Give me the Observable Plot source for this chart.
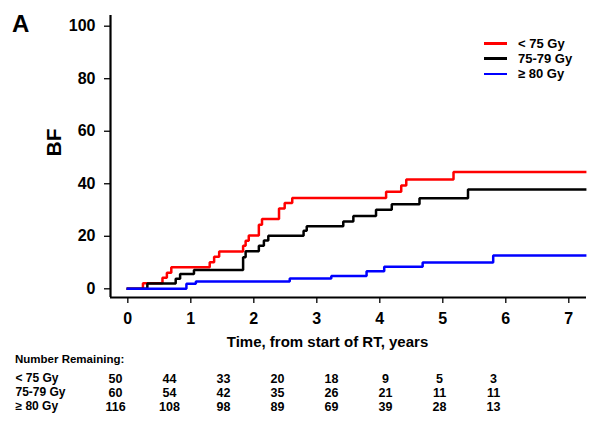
<!DOCTYPE html>
<html>
<head>
<meta charset="utf-8">
<script src="https://cdn.jsdelivr.net/npm/d3@7"></script>
<script src="https://cdn.jsdelivr.net/npm/@observablehq/plot@0.6"></script>
<style>
  html, body { margin: 0; padding: 0; background: #fff; }
  #wrap { position: relative; width: 600px; height: 422px; font-family: "Liberation Sans", Arial, sans-serif; font-weight: bold; color: #000; overflow: hidden; }
  #wrap svg { font-family: "Liberation Sans", Arial, sans-serif; }
  .abs { position: absolute; line-height: 1; white-space: nowrap; }
  .sw { position: absolute; width: 23px; height: 2.5px; }
</style>
</head>
<body>
<div id="wrap"></div>
<script>
// ---- data ----
const series = ["< 75 Gy", "75-79 Gy", "≥ 80 Gy"];
const colors = ["#ff0000", "#000000", "#0000ff"];

const redTimes   = [0, 0.24, 0.55, 0.62, 0.69, 1.30, 1.37, 1.45, 1.83, 1.87, 1.92, 2.08, 2.13, 2.40, 2.49, 2.61, 4.10, 4.34, 4.42, 5.17, 7.26];
const redValues  = [0, 2.1, 4.2, 6.1, 8.2, 10.1, 12.2, 14.2, 16.4, 18.3, 20.3, 24.4, 26.6, 30.6, 32.7, 34.6, 37.0, 39.3, 41.6, 44.5, 44.5];

const blackTimes  = [0, 0.31, 0.76, 0.83, 1.05, 1.83, 1.87, 2.08, 2.16, 2.23, 2.79, 2.84, 3.42, 3.58, 3.94, 4.19, 4.63, 5.40, 7.26];
const blackValues = [0, 2.0, 3.8, 5.6, 7.2, 12.0, 14.3, 16.4, 18.4, 20.2, 22.1, 23.8, 25.6, 27.7, 30.1, 32.2, 34.5, 37.8, 37.8];

const blueTimes  = [0, 0.93, 1.08, 2.57, 3.23, 3.79, 4.07, 4.68, 5.80, 7.26];
const blueValues = [0, 1.9, 2.8, 3.9, 4.9, 6.7, 8.4, 10.0, 12.7, 12.7];

const xTicks = [0, 1, 2, 3, 4, 5, 6, 7];
const yTicks = [0, 20, 40, 60, 80, 100];

const remainingLt75 = [50, 44, 33, 20, 18, 9, 5, 3];
const remaining7579 = [60, 54, 42, 35, 26, 21, 11, 11];
const remainingGe80 = [116, 108, 98, 89, 69, 39, 28, 13];

const panelLabel = "A";
const yLabel = "BF";
const xLabel = "Time, from start of RT, years";
const tableTitle = "Number Remaining:";

// ---- build ----
const xDomain = [-0.275, 7.281];
const yDomain = [-3.31, 104.07];
const toRows = (ts, vs, s) => ts.map((t, i) => ({t, v: vs[i], s}));
const curves = [
  toRows(redTimes, redValues, series[0]),
  toRows(blackTimes, blackValues, series[1]),
  toRows(blueTimes, blueValues, series[2])
];

const wrap = document.getElementById("wrap");

const main = Plot.plot({
  width: 600,
  height: 358,
  marginTop: 15,
  marginBottom: 61,
  marginLeft: 110,
  marginRight: 14,
  style: {background: "none", fontFamily: "Liberation Sans, Arial, sans-serif"},
  x: {domain: xDomain},
  y: {domain: yDomain},
  marks: [
    ...curves.map((d, i) => Plot.line(d, {x: "t", y: "v", stroke: colors[i], strokeWidth: 2.5, curve: "step-after", strokeLinejoin: "miter", strokeLinecap: "square"})),
    Plot.ruleX([xDomain[0]], {stroke: "#000", strokeWidth: 2.2}),
    Plot.ruleY([yDomain[0]], {stroke: "#000", strokeWidth: 2.2}),
    Plot.axisY({ticks: yTicks, tickSize: 6, tickPadding: 9, fontSize: 16, fontWeight: "bold", strokeWidth: 1.3, label: null, tickFormat: d => String(d)}),
    Plot.axisX({ticks: xTicks, tickSize: 6, tickPadding: 9, fontSize: 16, fontWeight: "bold", strokeWidth: 1.3, label: null, tickFormat: d => String(d)}),
    Plot.text([yLabel], {frameAnchor: "left", dx: -56, rotate: -90, fontSize: 21, fontWeight: "bold", fill: "#000"}),
    Plot.text([xLabel], {frameAnchor: "bottom", dx: -21, dy: 49, fontSize: 15, fontWeight: "bold", fill: "#000"})
  ]
});
main.style.position = "absolute";
main.style.left = "0px";
main.style.top = "0px";
wrap.appendChild(main);

// table of numbers remaining
const tableRows = [remainingLt75, remaining7579, remainingGe80].flatMap((arr, r) => arr.map((n, c) => ({row: series[r], col: c, n})));
const table = Plot.plot({
  width: 600,
  height: 64,
  marginTop: 0, marginBottom: 0, marginLeft: 15, marginRight: 0,
  style: {background: "none", fontFamily: "Liberation Sans, Arial, sans-serif"},
  x: {type: "point", domain: d3.range(8), range: [111.7, 495.7], padding: 0, axis: null},
  y: {type: "point", domain: series, range: [19.5, 47.8], padding: 0, axis: null},
  marks: [
    Plot.text(tableRows, {x: "col", y: "row", text: d => String(d.n), fontSize: 12.5, fontWeight: "bold", fill: "#000"}),
    Plot.text(series, {y: d => d, frameAnchor: "left", textAnchor: "start", fontSize: 12, fontWeight: "bold", fill: "#000"})
  ]
});
table.style.position = "absolute";
table.style.left = "0px";
table.style.top = "358px";
wrap.appendChild(table);

// HTML texts: panel label, table title, legend
function addText(txt, left, baseline, fs) {
  const el = document.createElement("div");
  el.className = "abs";
  el.textContent = txt;
  el.style.fontSize = fs + "px";
  el.style.left = left + "px";
  el.style.top = (baseline - 0.8465 * fs) + "px";
  wrap.appendChild(el);
  return el;
}
addText(panelLabel, 12, 32, 24);
addText(tableTitle, 15, 363.3, 11.5);

const legendBaselines = [47.7, 62.9, 78.2];
series.forEach((s, i) => {
  const sw = document.createElement("div");
  sw.className = "sw";
  sw.style.background = colors[i];
  sw.style.left = "484px";
  sw.style.top = (legendBaselines[i] - 4.4 - 1.25) + "px";
  wrap.appendChild(sw);
  addText(s, 518, legendBaselines[i], 13);
});
</script>
</body>
</html>
